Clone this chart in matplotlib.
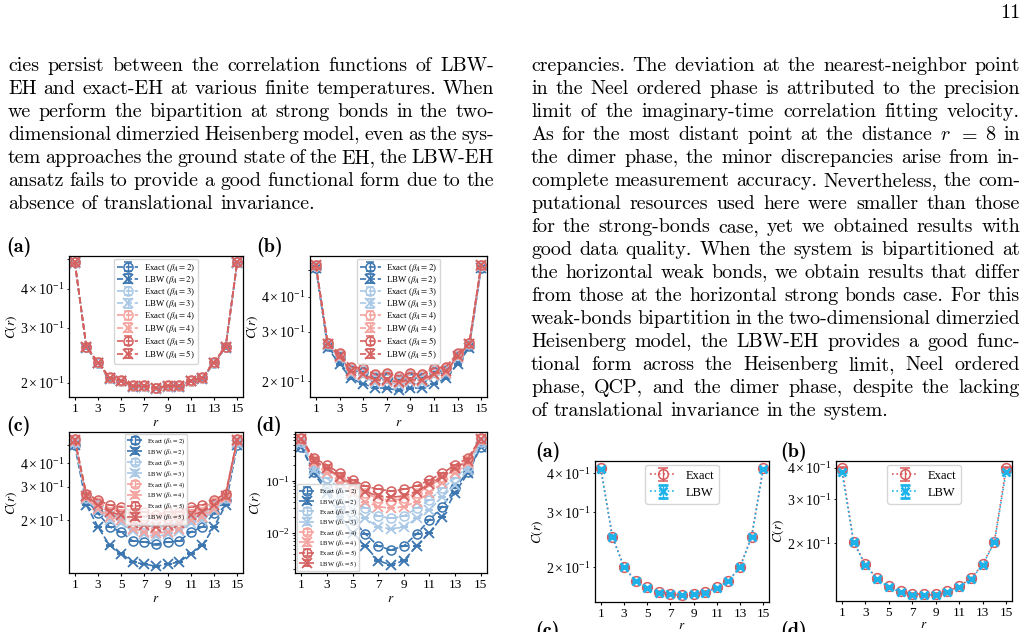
import matplotlib.pyplot as plt

W, H = 1028, 632

plt.rcParams['font.family'] = ['Liberation Serif', 'DejaVu Serif']
plt.rcParams['mathtext.fontset'] = 'stix'
plt.rcParams['axes.linewidth'] = 0.9

# ---------------- data ----------------
r = list(range(1, 16))
xticks = [1, 3, 5, 7, 9, 11, 13, 15]
betas = [2, 3, 4, 5]

# left figure, panel (a)
a_ex2 = [0.487, 0.260, 0.232, 0.207, 0.203, 0.195, 0.195, 0.192, 0.195, 0.195, 0.203, 0.207, 0.232, 0.260, 0.487]
a_lbw2 = [0.486, 0.259, 0.231, 0.206, 0.202, 0.194, 0.194, 0.191, 0.194, 0.194, 0.202, 0.206, 0.231, 0.259, 0.486]
a_ex3 = [0.487, 0.260, 0.232, 0.207, 0.203, 0.195, 0.195, 0.192, 0.195, 0.195, 0.203, 0.207, 0.232, 0.260, 0.487]
a_lbw3 = [0.486, 0.260, 0.231, 0.207, 0.202, 0.195, 0.194, 0.191, 0.194, 0.195, 0.202, 0.207, 0.231, 0.260, 0.486]
a_ex4 = [0.488, 0.260, 0.233, 0.207, 0.203, 0.195, 0.195, 0.192, 0.195, 0.195, 0.203, 0.207, 0.233, 0.260, 0.488]
a_lbw4 = [0.487, 0.260, 0.232, 0.207, 0.203, 0.195, 0.195, 0.192, 0.195, 0.195, 0.203, 0.207, 0.232, 0.260, 0.487]
a_ex5 = [0.488, 0.261, 0.233, 0.208, 0.204, 0.196, 0.196, 0.193, 0.196, 0.196, 0.204, 0.208, 0.233, 0.261, 0.488]
a_lbw5 = [0.487, 0.260, 0.232, 0.207, 0.203, 0.195, 0.195, 0.192, 0.195, 0.195, 0.203, 0.207, 0.232, 0.260, 0.487]

# left figure, panel (b)
b_ex2 = [0.506, 0.268, 0.244, 0.219, 0.216, 0.205, 0.206, 0.202, 0.206, 0.205, 0.216, 0.219, 0.244, 0.268, 0.506]
b_lbw2 = [0.509, 0.264, 0.230, 0.205, 0.196, 0.190, 0.189, 0.186, 0.189, 0.190, 0.196, 0.205, 0.230, 0.264, 0.509]
b_ex3 = [0.515, 0.272, 0.248, 0.222, 0.220, 0.209, 0.211, 0.206, 0.211, 0.209, 0.220, 0.222, 0.248, 0.272, 0.515]
b_lbw3 = [0.514, 0.269, 0.242, 0.213, 0.209, 0.198, 0.199, 0.195, 0.199, 0.198, 0.209, 0.213, 0.242, 0.269, 0.514]
b_ex4 = [0.518, 0.274, 0.250, 0.224, 0.222, 0.211, 0.213, 0.208, 0.213, 0.211, 0.222, 0.224, 0.250, 0.274, 0.518]
b_lbw4 = [0.517, 0.271, 0.244, 0.215, 0.211, 0.200, 0.201, 0.197, 0.201, 0.200, 0.211, 0.215, 0.244, 0.271, 0.517]
b_ex5 = [0.520, 0.275, 0.252, 0.225, 0.223, 0.212, 0.214, 0.209, 0.214, 0.212, 0.223, 0.225, 0.252, 0.275, 0.520]
b_lbw5 = [0.519, 0.272, 0.246, 0.217, 0.213, 0.202, 0.203, 0.199, 0.203, 0.202, 0.213, 0.217, 0.246, 0.272, 0.519]

# left figure, panel (c)
c_ex2 = [0.498, 0.255, 0.217, 0.184, 0.173, 0.155, 0.153, 0.149, 0.153, 0.155, 0.173, 0.184, 0.217, 0.255, 0.498]
c_lbw2 = [0.498, 0.240, 0.184, 0.147, 0.133, 0.120, 0.117, 0.114, 0.117, 0.120, 0.133, 0.147, 0.184, 0.240, 0.498]
c_ex3 = [0.519, 0.263, 0.240, 0.212, 0.206, 0.193, 0.190, 0.184, 0.190, 0.193, 0.206, 0.212, 0.240, 0.263, 0.519]
c_lbw3 = [0.513, 0.257, 0.226, 0.200, 0.192, 0.175, 0.168, 0.164, 0.168, 0.175, 0.192, 0.200, 0.226, 0.257, 0.513]
c_ex4 = [0.530, 0.271, 0.250, 0.230, 0.226, 0.212, 0.210, 0.204, 0.210, 0.212, 0.226, 0.230, 0.250, 0.271, 0.530]
c_lbw4 = [0.525, 0.263, 0.230, 0.208, 0.200, 0.180, 0.173, 0.170, 0.173, 0.180, 0.200, 0.208, 0.230, 0.263, 0.525]
c_ex5 = [0.534, 0.276, 0.255, 0.240, 0.235, 0.221, 0.221, 0.212, 0.221, 0.221, 0.235, 0.240, 0.255, 0.276, 0.534]
c_lbw5 = [0.530, 0.268, 0.240, 0.221, 0.212, 0.192, 0.188, 0.184, 0.188, 0.192, 0.212, 0.221, 0.240, 0.268, 0.530]

# left figure, panel (d)
d_ex2 = [0.457, 0.151, 0.0723, 0.0321, 0.0178, 0.00957, 0.00562, 0.00471, 0.00562, 0.00957, 0.0178, 0.0321, 0.0723, 0.151, 0.457]
d_lbw2 = [0.444, 0.140, 0.0597, 0.0206, 0.0101, 0.00562, 0.00294, 0.00243, 0.00294, 0.00562, 0.0101, 0.0206, 0.0597, 0.140, 0.444]
d_ex3 = [0.571, 0.189, 0.1125, 0.0723, 0.0431, 0.0298, 0.0212, 0.0191, 0.0212, 0.0298, 0.0431, 0.0723, 0.1125, 0.189, 0.571]
d_lbw3 = [0.546, 0.163, 0.0838, 0.0500, 0.0277, 0.0191, 0.01285, 0.0121, 0.01285, 0.0191, 0.0277, 0.0500, 0.0838, 0.163, 0.546]
d_ex4 = [0.633, 0.253, 0.168, 0.1125, 0.0801, 0.0579, 0.0464, 0.0419, 0.0464, 0.0579, 0.0801, 0.1125, 0.168, 0.253, 0.633]
d_lbw4 = [0.614, 0.219, 0.140, 0.0902, 0.0597, 0.0401, 0.0321, 0.0298, 0.0321, 0.0401, 0.0597, 0.0902, 0.140, 0.219, 0.614]
d_ex5 = [0.661, 0.273, 0.203, 0.140, 0.1045, 0.0801, 0.0691, 0.0642, 0.0691, 0.0801, 0.1045, 0.140, 0.203, 0.273, 0.661]
d_lbw5 = [0.633, 0.246, 0.175, 0.121, 0.0876, 0.0623, 0.0515, 0.0485, 0.0515, 0.0623, 0.0876, 0.121, 0.175, 0.246, 0.633]

# right figure, panels (a) and (b)
ra_ex = [0.415, 0.251, 0.201, 0.181, 0.173, 0.167, 0.165, 0.163, 0.165, 0.167, 0.173, 0.181, 0.201, 0.251, 0.415]
ra_lbw = [0.414, 0.250, 0.200, 0.181, 0.172, 0.166, 0.164, 0.163, 0.164, 0.166, 0.172, 0.181, 0.200, 0.250, 0.414]
rb_ex = [0.400, 0.203, 0.165, 0.145, 0.135, 0.129, 0.126, 0.1255, 0.126, 0.129, 0.135, 0.145, 0.165, 0.203, 0.400]
rb_lbw = [0.386, 0.202, 0.164, 0.144, 0.134, 0.128, 0.125, 0.1245, 0.125, 0.128, 0.134, 0.144, 0.164, 0.202, 0.386]

# statistical error bars (tiny)
err_abc = 0.0005
err_d = 0.00002
err_right = 0.0005

left_text = [
    "cies persist between the correlation functions of LBW-",
    "EH and exact-EH at various finite temperatures. When",
    "we perform the bipartition at strong bonds in the two-",
    "dimensional dimerzied Heisenberg model, even as the sys-",
    "tem approaches the ground state of the EH, the LBW-EH",
    "ansatz fails to provide a good functional form due to the",
    "absence of translational invariance.",
]
right_text = [
    "crepancies. The deviation at the nearest-neighbor point",
    "in the Neel ordered phase is attributed to the precision",
    "limit of the imaginary-time correlation fitting velocity.",
    "As for the most distant point at the distance $r$ $=$ 8 in",
    "the dimer phase, the minor discrepancies arise from in-",
    "complete measurement accuracy. Nevertheless, the com-",
    "putational resources used here were smaller than those",
    "for the strong-bonds case, yet we obtained results with",
    "good data quality. When the system is bipartitioned at",
    "the horizontal weak bonds, we obtain results that differ",
    "from those at the horizontal strong bonds case. For this",
    "weak-bonds bipartition in the two-dimensional dimerzied",
    "Heisenberg model, the LBW-EH provides a good func-",
    "tional form across the Heisenberg limit, Neel ordered",
    "phase, QCP, and the dimer phase, despite the lacking",
    "of translational invariance in the system.",
]

colors = ['#3b76b0', '#a9c8e6', '#f4a39e', '#d4605f']
red_exact = '#d95a5c'
cyan_lbw = '#1db3ea'

fig = plt.figure(figsize=(W / 100, H / 100), dpi=100)
renderer = fig.canvas.get_renderer()


def add_ax(x0, y0, x1, y1):
    return fig.add_axes([x0 / W, 1 - y1 / H, (x1 - x0) / W, (y1 - y0) / H])


def text_line(line, x0, x1, y, justify, size=14.4):
    words = line.split(' ')
    objs = [fig.text(0, 0, w, fontsize=size, family='cmr10', math_fontfamily='cm',
                     va='baseline', ha='left') for w in words]
    widths = [t.get_window_extent(renderer).width for t in objs]
    if justify and len(words) > 1:
        gap = (x1 - x0 - sum(widths)) / (len(words) - 1)
    else:
        gap = size * 100 / 72 * 0.333
    x = x0
    for t, w in zip(objs, widths):
        t.set_position((x / W, 1 - y / H))
        x += w + gap


def paragraph(lines, x0, x1, y0, step=23.0):
    for i, line in enumerate(lines):
        text_line(line, x0, x1, y0 + i * step, i < len(lines) - 1)


def panel_label(x, y, s):
    fig.text(x / W, 1 - y / H, s, fontsize=14.5, family='cmb10',
             va='center', ha='left')


def style_axis(ax, ylim, xpad=2):
    ax.set_yscale('log')
    ax.set_ylim(*ylim)
    ax.set_xlim(0.5, 15.5)
    ax.set_xticks(xticks)
    ax.tick_params(labelsize=9.5, length=2.5, width=0.8, pad=1.5)
    ax.tick_params(which='minor', length=1.6, width=0.6, pad=1.5)
    ax.set_xlabel('$r$', fontsize=9.5, labelpad=xpad)
    ax.set_ylabel('$C(r)$', fontsize=9.5, labelpad=1)


def left_panel(box, exs, lbws, ylim, err, leg_size, leg_loc, spacing):
    ax = add_ax(*box)
    for b, c, ex, lb in zip(betas, colors, exs, lbws):
        ax.errorbar(r, ex, yerr=err, fmt='o--', color=c, mfc='none', ms=6.5, mew=1.1,
                    lw=1.2, capsize=3, elinewidth=1.0, label=r'Exact ($\beta_A = %d$)' % b)
        ax.errorbar(r, lb, yerr=err, fmt='x--', color=c, ms=6.5, mew=1.3,
                    lw=1.2, capsize=3, elinewidth=1.0, label=r'LBW ($\beta_A = %d$)' % b)
    style_axis(ax, ylim)
    ax.legend(loc=leg_loc, fontsize=leg_size, handlelength=2.4, borderpad=0.35,
              labelspacing=spacing, borderaxespad=0.3, handletextpad=0.6)
    return ax


def right_panel(box, ex, lbw, ylim, err):
    ax = add_ax(*box)
    ax.errorbar(r, ex, yerr=err, fmt='o:', color=red_exact, mfc='none', ms=7, mew=1.1,
                lw=1.2, capsize=3.5, elinewidth=1.0, label='Exact')
    ax.errorbar(r, lbw, yerr=err, fmt='x:', color=cyan_lbw, ms=6, mew=2.0,
                lw=1.2, capsize=3.5, elinewidth=1.0, label='LBW')
    style_axis(ax, ylim, xpad=0)
    ax.legend(loc='upper center', fontsize=9, handlelength=2.0, borderpad=0.4,
              labelspacing=0.4, borderaxespad=0.3)
    return ax


# ---------------- text ----------------
fig.text(1020 / W, 1 - 18 / H, '11', fontsize=14.4, family='cmr10', ha='right', va='baseline')
paragraph(left_text, 8, 494, 71)
paragraph(right_text, 531, 1020, 71)

# ---------------- left figure ----------------
left_panel((69, 256, 243, 397), [a_ex2, a_ex3, a_ex4, a_ex5], [a_lbw2, a_lbw3, a_lbw4, a_lbw5],
           (0.18, 0.51), err_abc, 6.3, 'upper center', 0.02)
left_panel((310, 256, 487, 397), [b_ex2, b_ex3, b_ex4, b_ex5], [b_lbw2, b_lbw3, b_lbw4, b_lbw5],
           (0.176, 0.56), err_abc, 6.3, 'upper center', 0.02)
left_panel((69, 432, 243, 573), [c_ex2, c_ex3, c_ex4, c_ex5], [c_lbw2, c_lbw3, c_lbw4, c_lbw5],
           (0.105, 0.584), err_abc, 4.7, 'upper center', 0.18)
left_panel((295, 432, 487, 573), [d_ex2, d_ex3, d_ex4, d_ex5], [d_lbw2, d_lbw3, d_lbw4, d_lbw5],
           (0.0017, 0.874), err_d, 4.7, 'lower left', 0.1)

panel_label(6, 247, '(a)')
panel_label(256, 247, '(b)')
panel_label(6, 426, '(c)')
panel_label(255, 426, '(d)')

# ---------------- right figure ----------------
right_panel((595, 461, 769, 602), ra_ex, ra_lbw, (0.155, 0.438), err_right)
right_panel((836, 461, 1012, 601), rb_ex, rb_lbw, (0.118, 0.425), err_right)

panel_label(535, 452, '(a)')
panel_label(780, 452, '(b)')
panel_label(535, 631, '(c)')
panel_label(780, 631, '(d)')

fig.savefig('out.png', dpi=100)
